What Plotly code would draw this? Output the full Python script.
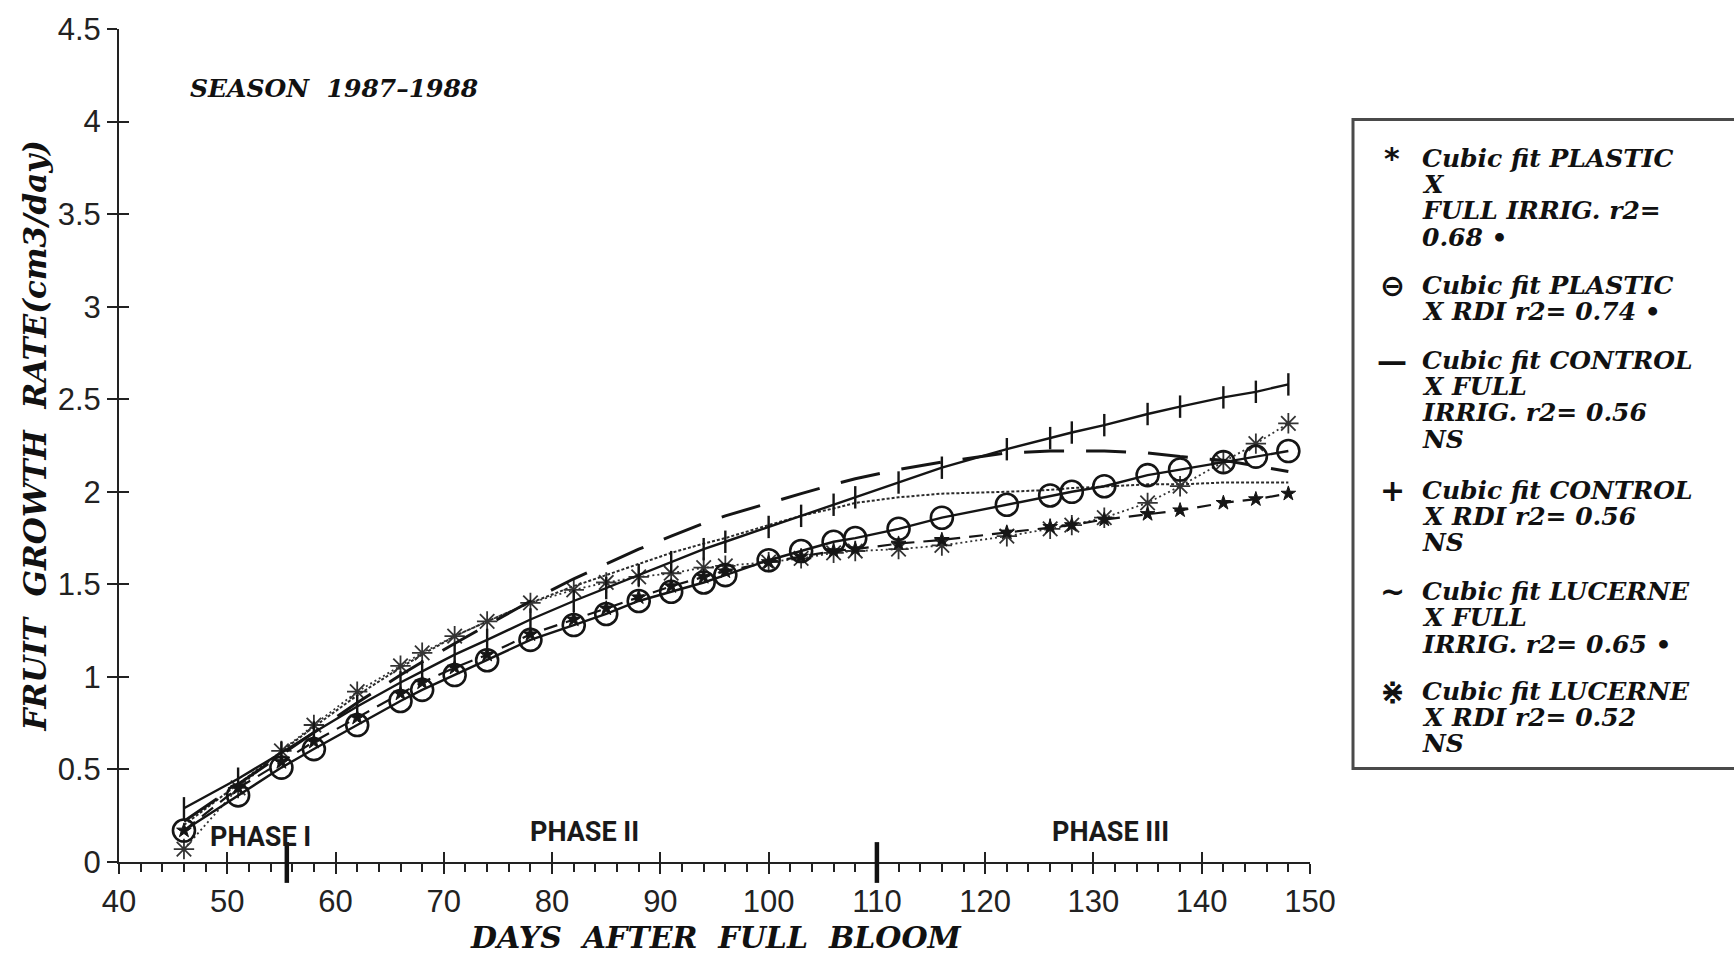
import plotly.graph_objects as go

# ---------------- data ----------------
days = [46, 51, 55, 58, 62, 66, 68, 71, 74, 78, 82, 85, 88, 91, 94, 96, 100, 103,
        106, 108, 112, 116, 122, 126, 128, 131, 135, 138, 142, 145, 148]

plastic_full = [0.17, 0.40, 0.54, 0.65, 0.78, 0.91, 0.97, 1.05, 1.12, 1.23, 1.31, 1.37,
                1.43, 1.49, 1.54, 1.57, 1.62, 1.65, 1.68, 1.69, 1.72, 1.74, 1.78, 1.81,
                1.82, 1.85, 1.88, 1.90, 1.94, 1.96, 1.99]
plastic_rdi = [0.17, 0.36, 0.51, 0.61, 0.74, 0.87, 0.93, 1.01, 1.09, 1.20, 1.28, 1.34,
               1.41, 1.46, 1.51, 1.55, 1.63, 1.68, 1.73, 1.75, 1.80, 1.86, 1.93, 1.98,
               2.00, 2.03, 2.09, 2.12, 2.16, 2.19, 2.22]
control_full = [0.22, 0.42, 0.58, 0.70, 0.86, 1.01, 1.08, 1.18, 1.28, 1.41, 1.53, 1.61,
                1.69, 1.76, 1.83, 1.87, 1.94, 1.99, 2.04, 2.07, 2.12, 2.16, 2.21, 2.22,
                2.22, 2.22, 2.21, 2.19, 2.17, 2.14, 2.11]
control_rdi = [0.29, 0.45, 0.59, 0.70, 0.84, 0.97, 1.03, 1.12, 1.20, 1.31, 1.41, 1.48,
               1.55, 1.62, 1.69, 1.73, 1.81, 1.87, 1.93, 1.97, 2.05, 2.13, 2.23, 2.29,
               2.32, 2.36, 2.42, 2.46, 2.51, 2.54, 2.58]
lucerne_full = [0.20, 0.42, 0.60, 0.73, 0.90, 1.05, 1.12, 1.22, 1.30, 1.40, 1.49, 1.55,
                1.61, 1.67, 1.72, 1.75, 1.82, 1.87, 1.91, 1.94, 1.97, 1.99, 2.00, 2.01,
                2.02, 2.03, 2.04, 2.04, 2.05, 2.05, 2.05]
lucerne_rdi = [0.07, 0.40, 0.60, 0.74, 0.92, 1.06, 1.13, 1.22, 1.30, 1.40, 1.47, 1.51,
               1.54, 1.56, 1.59, 1.60, 1.62, 1.64, 1.67, 1.68, 1.69, 1.71, 1.76, 1.80,
               1.82, 1.86, 1.94, 2.03, 2.16, 2.26, 2.37]

x_ticks = [40, 50, 60, 70, 80, 90, 100, 110, 120, 130, 140, 150]
y_ticks = [0, 0.5, 1, 1.5, 2, 2.5, 3, 3.5, 4, 4.5]
y_tick_text = ["0", "0.5", "1", "1.5", "2", "2.5", "3", "3.5", "4", "4.5"]

phase_bounds = [55.5, 110]
phase_labels = ["PHASE I", "PHASE II", "PHASE III"]
phase_label_x = [53.1, 83.0, 131.6]
phase_label_y = [0.134, 0.16, 0.16]

legend_entries = [
    ("*", ["Cubic fit PLASTIC", "X", "FULL IRRIG. r2=", "0.68 \u2022"]),
    ("\u2296", ["Cubic fit PLASTIC", "X RDI r2= 0.74 \u2022"]),
    ("\u2014", ["Cubic fit CONTROL", "X FULL", "IRRIG. r2= 0.56", "NS"]),
    ("+", ["Cubic fit CONTROL", "X RDI r2= 0.56", "NS"]),
    ("~", ["Cubic fit LUCERNE", "X FULL", "IRRIG. r2= 0.65 \u2022"]),
    ("\u22c7", ["Cubic fit LUCERNE", "X RDI r2= 0.52", "NS"]),
]

X_RANGE = [40, 150]
Y_RANGE = [0, 4.5]

# ---------------- figure ----------------
W, H = 1734, 958
ML, MR, MT, MB = 119, 424, 24, 96
PW, PH = W - ML - MR, H - MT - MB

def px_x(px):
    return (px - ML) / PW

def px_y(py):
    return (H - MB - py) / PH

ink = "#151515"
fig = go.Figure()

fig.add_trace(go.Scatter(x=days, y=lucerne_full, mode="lines",
                         line=dict(color="#2a2a2a", width=2, dash="3px,2px"),
                         name="Lucerne full"))
fig.add_trace(go.Scatter(x=days, y=lucerne_rdi, mode="lines+markers",
                         line=dict(color="#333", width=1.8, dash="2px,3px"),
                         marker=dict(symbol="asterisk-open", size=17,
                                     line=dict(color="#1e1e1e", width=1.8)),
                         name="Lucerne RDI"))
fig.add_trace(go.Scatter(x=days, y=control_full, mode="lines",
                         line=dict(color=ink, width=3, dash="40px,22px"),
                         name="Control full"))
fig.add_trace(go.Scatter(x=days, y=plastic_full, mode="lines+markers",
                         line=dict(color=ink, width=2.2, dash="14px,9px"),
                         marker=dict(symbol="star", size=11, color=ink,
                                     line=dict(color=ink, width=1)),
                         name="Plastic full"))
fig.add_trace(go.Scatter(x=days, y=control_rdi, mode="lines+markers",
                         line=dict(color=ink, width=2.4),
                         marker=dict(symbol="line-ns-open", size=16,
                                     line=dict(color=ink, width=2.4)),
                         name="Control RDI"))
fig.add_trace(go.Scatter(x=days, y=plastic_rdi, mode="lines+markers",
                         line=dict(color=ink, width=2.4),
                         marker=dict(symbol="circle-open", size=22,
                                     line=dict(color=ink, width=2.6)),
                         name="Plastic RDI"))
# helper (empty) trace so that the overlay axes used for crossing ticks exist
fig.add_trace(go.Scatter(x=[], y=[], xaxis="x2", yaxis="y2", showlegend=False,
                         hoverinfo="skip"))

tick_font = dict(family="Liberation Sans, Arial, sans-serif", size=31, color="#222")
title_font = dict(family="DejaVu Serif", size=30, color="#111")

fig.update_layout(
    width=W, height=H, autosize=False,
    margin=dict(l=ML, r=MR, t=MT, b=MB, pad=0),
    paper_bgcolor="white", plot_bgcolor="white",
    showlegend=False,
    xaxis=dict(range=X_RANGE, tickmode="array", tickvals=x_ticks,
               ticktext=[str(v) for v in x_ticks],
               ticks="outside", ticklen=10, tickwidth=2, tickcolor="#222",
               minor=dict(dtick=2, tick0=40, ticks="outside", ticklen=8,
                          tickwidth=2, tickcolor="#222"),
               showline=True, linecolor="#222", linewidth=2,
               showgrid=False, zeroline=False, tickfont=tick_font,
               ticklabelstandoff=1),
    yaxis=dict(range=Y_RANGE, tickmode="array", tickvals=y_ticks,
               ticktext=y_tick_text,
               ticks="outside", ticklen=10, tickwidth=2, tickcolor="#222",
               showline=True, linecolor="#222", linewidth=2,
               showgrid=False, zeroline=False, tickfont=tick_font,
               ticklabelstandoff=0),
    xaxis2=dict(range=X_RANGE, overlaying="x", anchor="y", side="bottom",
                tickmode="array", tickvals=x_ticks, ticks="inside", ticklen=10,
                tickwidth=2, tickcolor="#222", showticklabels=False,
                showline=False, showgrid=False, zeroline=False),
    yaxis2=dict(range=Y_RANGE, overlaying="y", anchor="x", side="left",
                tickmode="array", tickvals=y_ticks, ticks="inside", ticklen=10,
                tickwidth=2, tickcolor="#222", showticklabels=False,
                showline=False, showgrid=False, zeroline=False),
)

shapes = []
# phase dividers (thick ticks on the x axis)
for b in phase_bounds:
    xp = (b - X_RANGE[0]) / (X_RANGE[1] - X_RANGE[0])
    shapes.append(dict(type="line", xref="paper", yref="paper", x0=xp, x1=xp,
                       y0=px_y(883), y1=px_y(842), line=dict(color="#111", width=4.5)))
# legend box
shapes.append(dict(type="rect", xref="paper", yref="paper",
                   x0=px_x(1353), x1=px_x(1760), y0=px_y(768), y1=px_y(115),
                   line=dict(color="#4a4a4a", width=3), fillcolor="white",
                   layer="below"))
fig.update_layout(shapes=shapes)

ann = []
# phase labels
for t, xv, yv in zip(phase_labels, phase_label_x, phase_label_y):
    ann.append(dict(text=t, x=xv, y=yv, xref="x", yref="y", showarrow=False,
                    xanchor="center", yanchor="middle",
                    font=dict(family="Liberation Sans Narrow, Roboto, sans-serif",
                              size=27, color="#1a1a1a", weight="bold")))
# season
ann.append(dict(text="<b><i>SEASON  1987\u20131988</i></b>", x=px_x(188), y=px_y(84),
                xref="paper", yref="paper", showarrow=False, xanchor="left",
                yanchor="middle", font=dict(family="DejaVu Serif", size=25, color="#111")))
# axis titles
ann.append(dict(text="<b><i>DAYS  AFTER  FULL  BLOOM</i></b>", x=px_x(716), y=px_y(938),
                xref="paper", yref="paper", showarrow=False, xanchor="center",
                yanchor="middle", font=title_font))
ann.append(dict(text="<b><i>FRUIT  GROWTH  RATE(cm3/day)</i></b>", x=px_x(35), y=px_y(434),
                xref="paper", yref="paper", showarrow=False, xanchor="center",
                yanchor="middle", textangle=-90,
                font=dict(family="DejaVu Serif", size=31, color="#111")))

# legend text
first_line_y = [154, 282, 357, 488, 590, 690]
line_gap = 26.5
leg_font = dict(family="DejaVu Serif", size=25, color="#111")
sym_font = dict(family="DejaVu Sans", size=30, color="#111")
for (sym, lines), y0 in zip(legend_entries, first_line_y):
    ann.append(dict(text="<b>" + sym + "</b>", x=px_x(1392), y=px_y(y0), xref="paper",
                    yref="paper", showarrow=False, xanchor="center", yanchor="middle",
                    font=sym_font))
    for i, ln in enumerate(lines):
        ann.append(dict(text="<b><i>" + ln + "</i></b>", x=px_x(1420),
                        y=px_y(y0 + i * line_gap), xref="paper", yref="paper",
                        showarrow=False, xanchor="left", yanchor="middle",
                        font=leg_font))
fig.update_layout(annotations=ann)

fig.write_html("out.html")
